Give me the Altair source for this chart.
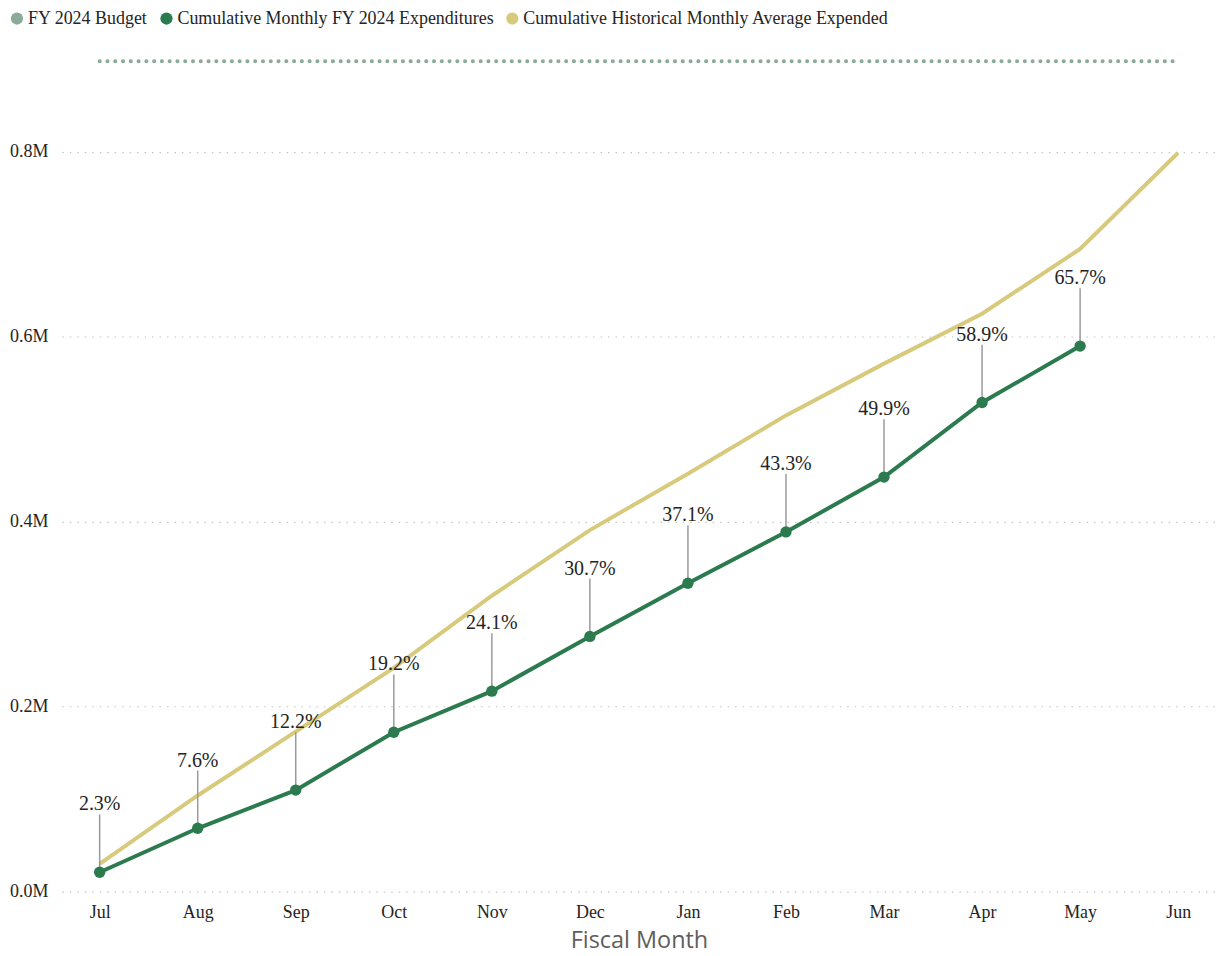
import altair as alt
import pandas as pd

months = ["Jul", "Aug", "Sep", "Oct", "Nov", "Dec", "Jan", "Feb", "Mar", "Apr", "May", "Jun"]
budget_m = [0.898, 0.898, 0.898, 0.898, 0.898, 0.898, 0.898, 0.898, 0.898, 0.898, 0.898, 0.898]
expend_m = [0.0210, 0.0685, 0.1098, 0.1724, 0.2168, 0.2760, 0.3335, 0.3890, 0.4483, 0.5290, 0.5900]
hist_m = [0.030, 0.104, 0.173, 0.242, 0.320, 0.391, 0.452, 0.515, 0.571, 0.625, 0.695, 0.799]
pct_labels = ["2.3%", "7.6%", "12.2%", "19.2%", "24.1%", "30.7%", "37.1%", "43.3%", "49.9%", "58.9%", "65.7%"]

series = ["FY 2024 Budget",
          "Cumulative Monthly FY 2024 Expenditures",
          "Cumulative Historical Monthly Average Expended"]
colors = ["#8BAA99", "#2B7B4E", "#D8CA7C"]

rows = []
for m, v in zip(months, budget_m):
    rows.append({"month": m, "value": v, "series": series[0], "label": ""})
for m, v, l in zip(months, expend_m, pct_labels):
    rows.append({"month": m, "value": v, "series": series[1], "label": l})
for m, v in zip(months, hist_m):
    rows.append({"month": m, "value": v, "series": series[2], "label": ""})
df = pd.DataFrame(rows)

SERIF = "Liberation Serif"

x_enc = alt.X("month:N", sort=months,
              scale=alt.Scale(type="point", padding=0.386),
              axis=alt.Axis(title="Fiscal Month", labelAngle=0, grid=False, domain=False,
                            ticks=False, labelFont=SERIF, labelFontSize=18,
                            labelColor="#252423", labelPadding=12,
                            titleFont="Open Sans", titleFontSize=23.5, titleFontWeight="normal",
                            titleColor="#605E5C", titlePadding=7))
y_enc = alt.Y("value:Q",
              scale=alt.Scale(domain=[0, 0.9], nice=False, zero=True),
              axis=alt.Axis(title=None, values=[0, 0.2, 0.4, 0.6, 0.8],
                            labelExpr="format(datum.value, '.1f') + 'M'",
                            grid=True, gridDash=[1.5, 6], gridColor="#C4C4C4", gridWidth=1.2,
                            domain=False, ticks=False, labelFont=SERIF, labelFontSize=18,
                            labelColor="#252423", labelPadding=14))

base = alt.Chart(df)

budget_line = base.transform_filter(alt.datum.series == series[0]).mark_line(
    strokeDash=[0.1, 7.7], strokeCap="round", strokeWidth=4, color=colors[0]
).encode(x=x_enc, y=y_enc)

hist_line = base.transform_filter(alt.datum.series == series[2]).mark_line(
    strokeWidth=4, color=colors[2]
).encode(x=x_enc, y=y_enc)

exp_line = base.transform_filter(alt.datum.series == series[1]).mark_line(
    strokeWidth=4, color=colors[1]
).encode(x=x_enc, y=y_enc)

leaders = base.transform_filter(alt.datum.series == series[1]).mark_rule(
    color="#9A9A9A", strokeWidth=1.5, y2Offset=-58
).encode(x=x_enc, y=y_enc, y2="value:Q")

labels = base.transform_filter(alt.datum.series == series[1]).mark_text(
    font=SERIF, fontSize=20, color="#252423", dy=-62, baseline="alphabetic", align="center"
).encode(x=x_enc, y=y_enc, text="label:N")

points = base.transform_filter(alt.datum.series == series[1]).mark_point(
    filled=True, size=130, opacity=1
).encode(
    x=x_enc, y=y_enc,
    fill=alt.Fill("series:N", scale=alt.Scale(domain=series, range=colors),
                  legend=alt.Legend(title=None, orient="none", legendX=-54, legendY=-50,
                                    direction="horizontal", symbolType="circle",
                                    symbolSize=150, labelFont=SERIF, labelFontSize=18,
                                    labelColor="#252423", labelOffset=2, columnPadding=9,
                                    labelLimit=800, padding=0,
                                    symbolStrokeWidth=0, symbolOpacity=1)),
)

chart = alt.layer(budget_line, hist_line, exp_line, leaders, labels, points).properties(
    width=1158, height=835, padding=0
).configure_view(stroke=None)

chart.save("out.html", embed_options={"renderer": "svg", "actions": False})
